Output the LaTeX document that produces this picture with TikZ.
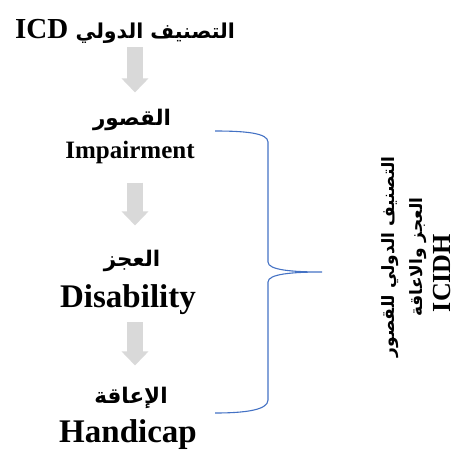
\documentclass[tikz,border=0pt]{standalone}
\usepackage{fontspec}
\setmainfont{Liberation Serif}
\newfontfamily\arabicfont[Script=Arabic]{DejaVu Sans}
\usetikzlibrary{positioning,arrows.meta}
\TeXXeTstate=1
\definecolor{arrowgray}{HTML}{D9D9D9}
\definecolor{braceblue}{HTML}{4472C4}

\begin{document}
\begin{tikzpicture}[
  x=1pt, y=-1pt,
  arlbl/.style={font=\arabicfont\bfseries\fontsize{21.5}{23}\selectfont, inner sep=0pt, anchor=base},
  enlbl/.style={font=\bfseries\fontsize{25}{27}\selectfont, inner sep=0pt, anchor=base},
  biglbl/.style={enlbl, font=\bfseries\fontsize{33}{35}\selectfont},
  flow/.style={arrowgray, line width=16pt, -{Triangle[width=26pt,length=14pt]}},
  brace/.style={braceblue, line width=1.1pt},
  sidelbl/.style={rotate=90, align=center, inner sep=0pt,
    font=\bfseries\fontsize{17}{28}\selectfont}
]
\useasboundingbox (0,0) rectangle (462,450);
\coordinate (axis) at (135,0);

% title and the three terms, one column
\node[enlbl, font=\bfseries\fontsize{29}{31}\selectfont] (icd) at (125,38)
  {ICD {\arabicfont\fontsize{20.5}{22}\selectfont\beginR التصنيف الدولي\endR}};
\node[arlbl] (impar) at (132,125) {\beginR القصور\endR};
\node[enlbl] (impair) at (130,158) {Impairment};
\node[arlbl] (disar) at (132,266) {\beginR العجز\endR};
\node[biglbl] (disab) at (128,307) {Disability};
\node[arlbl] (handar) at (131,403) {\beginR الإعاقة\endR};
\node[biglbl] (handi) at (128,442) {Handicap};

% grey block arrows between the terms
\draw[flow, shorten <=4pt, shorten >=16pt] (icd.south -| axis) -- (impar.north -| axis);
\draw[flow, shorten <=19pt, shorten >=24pt] (impair.south -| axis) -- (disar.north -| axis);
\draw[flow, shorten <=8pt, shorten >=21pt] (disab.south -| axis) -- (handar.north -| axis);

% side label and the brace that groups the three terms
\node[sidelbl] (icidh) at (416,257)
  {{\arabicfont\beginR التصنيف الدولي للقصور\endR}\\
   {\arabicfont\beginR العجز والاعاقة\endR}\\
   {\fontsize{26}{28}\selectfont ICIDH\rule{32pt}{0pt}}};
\coordinate (btop) at (215,131);
\coordinate (btip) at (322,272);
\coordinate (bbot) at (215,413);
\draw[brace] (btop) .. controls (245,131) and (268,133) .. (268,142)
  -- (268,262) .. controls (268,270) and (292,272) .. (btip)
  .. controls (292,272) and (268,274) .. (268,282)
  -- (268,400) .. controls (268,410) and (245,413) .. (bbot);
\end{tikzpicture}
\end{document}
